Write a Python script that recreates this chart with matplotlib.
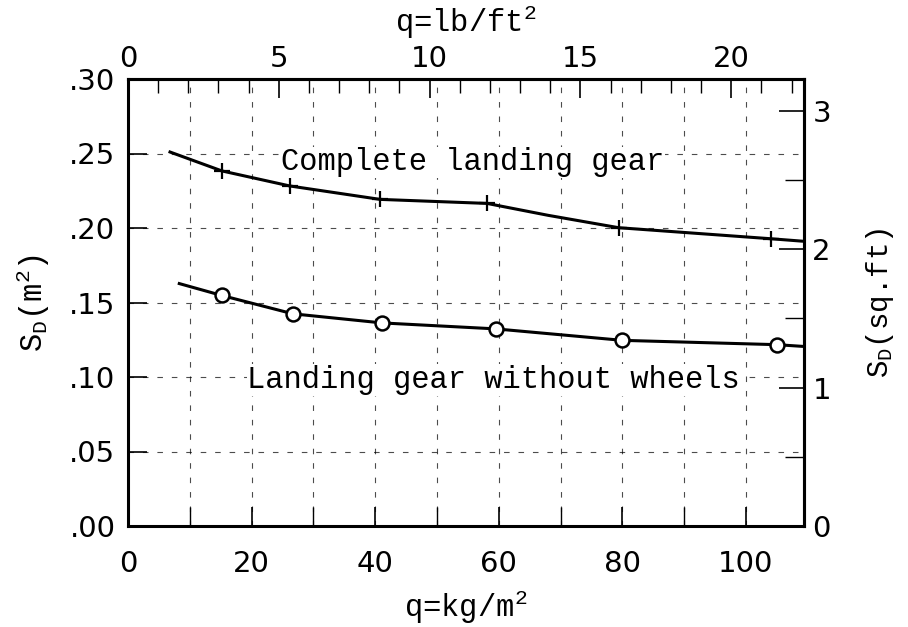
import matplotlib
matplotlib.use("Agg")
import matplotlib.pyplot as plt
from matplotlib.ticker import MultipleLocator

plt.rcParams['mathtext.fontset'] = 'custom'
plt.rcParams['mathtext.rm'] = 'Liberation Mono'
plt.rcParams['mathtext.it'] = 'Liberation Mono'
plt.rcParams['mathtext.default'] = 'rm'

# --- data (q in kg/m^2, S_D in m^2) ---
complete_curve_q = [6.8, 15.2, 26.2, 40.8, 58.1, 68.0, 79.4, 104.0, 109.0]
complete_curve_s = [0.251, 0.2383, 0.2282, 0.2192, 0.2165, 0.2085, 0.2002, 0.1928, 0.1912]
complete_pts_q = [15.2, 26.2, 40.8, 58.1, 79.4, 104.0]
complete_pts_s = [0.2383, 0.2282, 0.2192, 0.2165, 0.2002, 0.1928]

nowheel_curve_q = [8.3, 15.2, 26.7, 41.1, 59.5, 80.0, 105.0, 109.0]
nowheel_curve_s = [0.1627, 0.1547, 0.1424, 0.1363, 0.1323, 0.1246, 0.1217, 0.1206]
nowheel_pts_q = [15.2, 26.7, 41.1, 59.5, 80.0, 105.0]
nowheel_pts_s = [0.1547, 0.1424, 0.1363, 0.1323, 0.1246, 0.1217]

x_ticks = [0, 20, 40, 60, 80, 100]
y_ticks = [0.00, 0.05, 0.10, 0.15, 0.20, 0.25, 0.30]
y_ticklabels = ['.00', '.05', '.10', '.15', '.20', '.25', '.30']
top_ticks = [0, 5, 10, 15, 20]
right_ticks = [0, 1, 2, 3]

KG_PER_LB = 4.882   # kg/m^2 per lb/ft^2
M2_PER_FT2 = 0.0929

fig = plt.figure(figsize=(9.08, 6.27), dpi=100)
ax = fig.add_axes([128/908, 1 - 526/627, (804 - 128)/908, (526 - 79)/627])

ax.set_xlim(0, 109.4)
ax.set_ylim(0, 0.30)

# grid
for gx in range(10, 101, 10):
    ax.axvline(gx, color='black', lw=0.8, ls=(0, (5, 8)), alpha=0.7, zorder=1)
for gy in [0.05, 0.10, 0.15, 0.20, 0.25]:
    ax.axhline(gy, color='black', lw=0.8, ls=(0, (5, 8)), alpha=0.7, zorder=1)

# curves
ax.plot(complete_curve_q, complete_curve_s, color='black', lw=2.2, zorder=3)
ax.plot(complete_pts_q, complete_pts_s, ls='none', marker='+', ms=12, mew=1.6,
        color='black', zorder=4)
ax.plot(nowheel_curve_q, nowheel_curve_s, color='black', lw=2.2, zorder=3)
ax.plot(nowheel_pts_q, nowheel_pts_s, ls='none', marker='o', ms=10, mew=1.8,
        mfc='white', mec='black', zorder=4)

ax.text(55.8, 0.244, 'Complete landing gear', family='Liberation Mono',
        fontsize=22, ha='center', va='center', zorder=5,
        bbox=dict(facecolor='white', edgecolor='none', pad=0.5))
ax.text(59.2, 0.098, 'Landing gear without wheels', family='Liberation Mono',
        fontsize=22, ha='center', va='center', zorder=5,
        bbox=dict(facecolor='white', edgecolor='none', pad=0.5))

for s in ax.spines.values():
    s.set_linewidth(2.2)

ax.set_xticks(x_ticks)
ax.set_xticklabels([str(t) for t in x_ticks])
ax.set_yticks(y_ticks)
ax.set_yticklabels(y_ticklabels)
ax.tick_params(axis='y', direction='in', length=14, width=1.2, labelsize=21,
               pad=9)
ax.tick_params(axis='x', direction='in', length=14, width=1.2, labelsize=21,
               pad=17)
ax.xaxis.set_minor_locator(MultipleLocator(10))
ax.tick_params(axis='x', which='minor', direction='in', length=14, width=1.0)

ax.set_xlabel('q=kg/m$^2$', family='Liberation Mono', fontsize=22, labelpad=8)
ax.set_ylabel('S$_D$(m$^2$)', family='Liberation Mono', fontsize=22, labelpad=12)

# top axis (lb/ft^2)
top = ax.secondary_xaxis('top', functions=(lambda q: q / KG_PER_LB,
                                           lambda q: q * KG_PER_LB))
top.set_xticks(top_ticks)
top.xaxis.set_minor_locator(MultipleLocator(1))
top.tick_params(axis='x', which='major', direction='in', length=14, width=1.2,
                labelsize=21, pad=4)
top.tick_params(axis='x', which='minor', direction='in', length=10, width=1.0)
top.set_xlabel('q=lb/ft$^2$', family='Liberation Mono', fontsize=22, labelpad=10)
top.spines['top'].set_linewidth(2.2)

# right axis (sq ft)
right = ax.secondary_yaxis('right', functions=(lambda s: s / M2_PER_FT2,
                                               lambda s: s * M2_PER_FT2))
right.set_yticks(right_ticks)
right.yaxis.set_minor_locator(MultipleLocator(0.5))
right.tick_params(axis='y', which='major', direction='in', length=18, width=1.2,
                  labelsize=21, pad=6)
right.tick_params(axis='y', which='minor', direction='in', length=14, width=1.0)
right.set_ylabel('S$_D$(sq.ft)', family='Liberation Mono', fontsize=21,
                 labelpad=24)
right.spines['right'].set_linewidth(2.2)

fig.savefig('out.png', dpi=100)
